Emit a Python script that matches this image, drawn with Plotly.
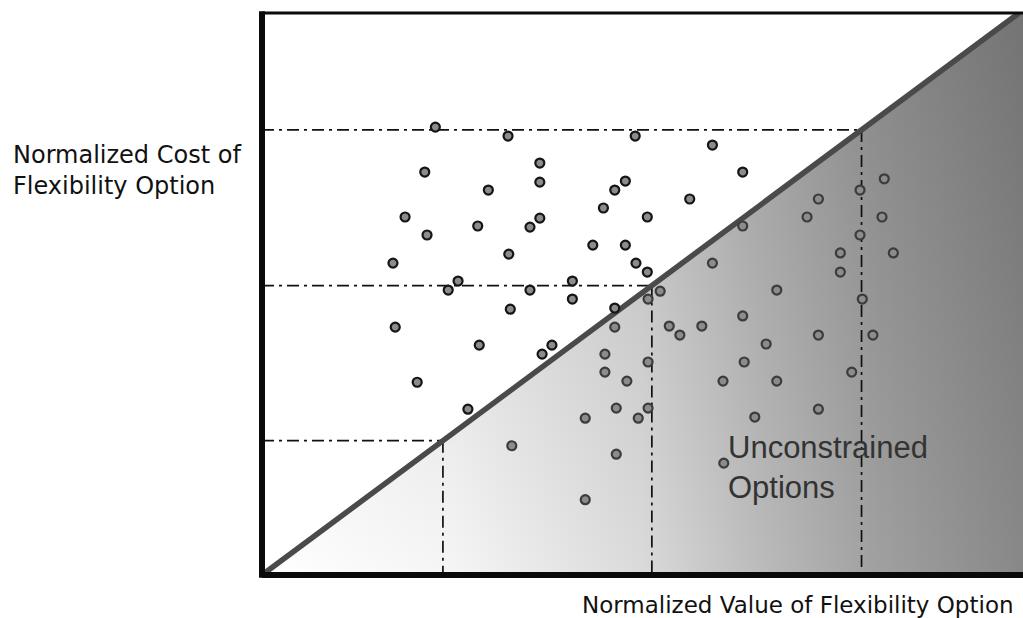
import plotly.graph_objects as go

# Normalized value (x) and normalized cost (y) of each flexibility option
option_value = [
    0.229, 0.325, 0.493, 0.215, 0.367, 0.367, 0.299, 0.480, 0.466, 0.451,
    0.509, 0.189, 0.218, 0.285, 0.367, 0.354, 0.326, 0.173, 0.437, 0.480,
    0.494, 0.509, 0.259, 0.246, 0.354, 0.410, 0.410, 0.328, 0.466, 0.595,
    0.635, 0.565, 0.735, 0.790, 0.822, 0.720, 0.819, 0.635, 0.790, 0.764,
    0.764, 0.834, 0.595, 0.680, 0.793, 0.526, 0.510, 0.635, 0.466, 0.176,
    0.287, 0.383, 0.370, 0.453, 0.453, 0.205, 0.482, 0.272, 0.468, 0.510,
    0.497, 0.427, 0.330, 0.468, 0.427, 0.538, 0.552, 0.581, 0.735, 0.807,
    0.666, 0.510, 0.637, 0.609, 0.680, 0.779, 0.735, 0.651, 0.610,
]
option_cost = [
    0.797, 0.781, 0.781, 0.717, 0.733, 0.699, 0.685, 0.701, 0.685, 0.653,
    0.637, 0.637, 0.605, 0.621, 0.635, 0.619, 0.571, 0.555, 0.587, 0.587,
    0.555, 0.539, 0.523, 0.507, 0.507, 0.523, 0.491, 0.473, 0.475, 0.765,
    0.717, 0.669, 0.669, 0.685, 0.705, 0.637, 0.637, 0.621, 0.605, 0.573,
    0.539, 0.573, 0.555, 0.507, 0.491, 0.505, 0.491, 0.461, 0.441, 0.441,
    0.409, 0.409, 0.393, 0.393, 0.361, 0.343, 0.345, 0.295, 0.297, 0.297,
    0.279, 0.279, 0.230, 0.215, 0.134, 0.443, 0.427, 0.443, 0.427, 0.427,
    0.411, 0.379, 0.379, 0.345, 0.345, 0.361, 0.295, 0.281, 0.199,
]

# Threshold levels drawn as dash-dot guides (cost level = value level on the diagonal)
guide_levels = [0.239, 0.515, 0.792]

x_label = "Normalized Value of Flexibility Option"
y_label = "Normalized Cost of<br>Flexibility Option"
region_label = "Unconstrained<br>Options"

X_MAX = 761 / 757

fig = go.Figure()

# shaded region below the break-even diagonal (horizontal gradient)
region_x = [0, 1, X_MAX, X_MAX, 0]
region_y = [0, 1, 1, 0, 0]
fig.add_trace(go.Scatter(
    x=region_x, y=region_y,
    mode="lines", fill="toself", line=dict(width=0),
    fillgradient=dict(type="horizontal", start=0, stop=X_MAX,
                      colorscale=[[0, "#ffffff"], [0.25, "#f5f5f5"], [0.5, "#dadada"],
                                  [0.65, "#bcbcbc"], [0.81, "#a0a0a0"], [1, "#888888"]]),
    hoverinfo="skip", showlegend=False,
))
# slight darkening toward the top
fig.add_trace(go.Scatter(
    x=region_x, y=region_y,
    mode="lines", fill="toself", line=dict(width=0),
    fillgradient=dict(type="vertical", start=0, stop=1,
                      colorscale=[[0, "rgba(0,0,0,0)"], [1, "rgba(0,0,0,0.15)"]]),
    hoverinfo="skip", showlegend=False,
))

# dash-dot guides
gx, gy = [], []
for v in guide_levels:
    gx += [0, v, None, v, v, None]
    gy += [v, v, None, v, 0, None]
fig.add_trace(go.Scatter(
    x=gx, y=gy, mode="lines",
    line=dict(color="#111111", width=1.7, dash="12px,5px,3px,5px"),
    hoverinfo="skip", showlegend=False,
))

# break-even diagonal
fig.add_trace(go.Scatter(
    x=[0, 1], y=[0, 1], mode="lines",
    line=dict(color="#4a4a4a", width=5.5),
    hoverinfo="skip", showlegend=False,
))

# options
edge = ["#151515" if c > v else "#3c3c3c" for v, c in zip(option_value, option_cost)]
fig.add_trace(go.Scatter(
    x=option_value, y=option_cost, mode="markers",
    marker=dict(size=9, color="#8c8c8c", line=dict(color=edge, width=2.2)),
    showlegend=False,
))

fig.update_layout(
    width=1023, height=618,
    margin=dict(l=262, r=0, t=13, b=43),
    paper_bgcolor="white", plot_bgcolor="white",
    xaxis=dict(range=[0, X_MAX], visible=False, fixedrange=True),
    yaxis=dict(range=[0, 1], visible=False, fixedrange=True),
    shapes=[
        dict(type="line", xref="paper", yref="paper", x0=0, x1=0, y0=-0.005, y1=1.003,
             line=dict(color="#0a0a0a", width=6)),
        dict(type="line", xref="paper", yref="paper", x0=0, x1=1, y0=0, y1=0,
             line=dict(color="#0a0a0a", width=6)),
        dict(type="line", xref="paper", yref="paper", x0=0, x1=1, y0=1, y1=1,
             line=dict(color="#0a0a0a", width=3)),
    ],
    annotations=[
        dict(text=y_label, xref="paper", yref="paper", x=(11 - 262) / 761, y=(575 - 170) / 562,
             xanchor="left", yanchor="middle", align="left", showarrow=False,
             font=dict(family="DejaVu Sans", size=24, color="#111111")),
        dict(text=x_label, xref="paper", yref="paper", x=(1016 - 262) / 761, y=(575 - 605) / 562,
             xanchor="right", yanchor="middle", showarrow=False,
             font=dict(family="DejaVu Sans", size=23, color="#111111")),
        dict(text=region_label, xref="paper", yref="paper", x=(726 - 262) / 761, y=(575 - 467) / 562,
             xanchor="left", yanchor="middle", align="left", showarrow=False,
             font=dict(family="Liberation Sans", size=31, color="#333333")),
    ],
)

fig.write_html(
    "out.html",
    config={"displayModeBar": False},
    post_script="document.body.style.margin='0';document.body.style.overflow='hidden';",
)
